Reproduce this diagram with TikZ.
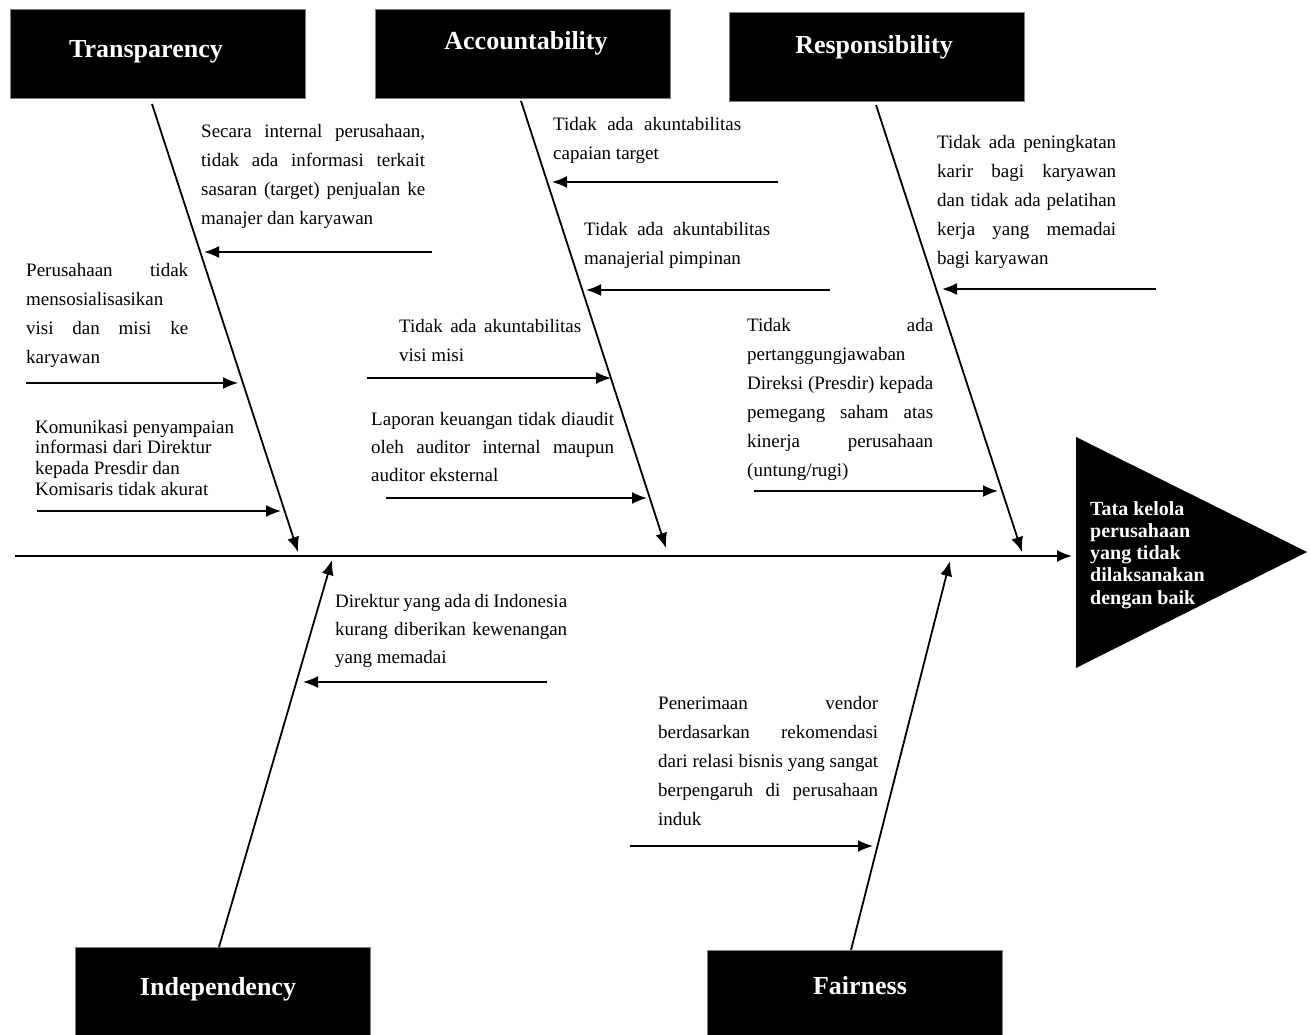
\documentclass[tikz,border=0pt]{standalone}
\usepackage{fontspec}
\setmainfont{Liberation Serif}
\usetikzlibrary{arrows.meta}
\newcommand\J[1]{\makebox[\linewidth][s]{#1}}
\begin{document}
\begin{tikzpicture}[x=1pt,y=-1pt,
  bone/.style={line width=1.8pt,-{Latex[length=15pt,width=12pt]}},
  sub/.style={line width=1.7pt,-{Latex[length=15pt,width=12pt]}},
  titlebox/.style={draw=gray,fill=black,line width=0.8pt,anchor=north west,inner sep=0,minimum width=295pt},
  titletext/.style={anchor=base,text=white,inner sep=0,font=\fontsize{26}{30}\selectfont\bfseries},
  desc/.style={anchor=base west,inner sep=0,font=\fontsize{19}{29}\selectfont},
  effect/.style={anchor=base west,inner sep=0,text=white,font=\fontsize{20}{22.3}\selectfont\bfseries},
]
\useasboundingbox (0,0) rectangle (1311,1035);

% category boxes
\node[titlebox,minimum height=89pt] (boxT) at (10,9) {};
\node[titletext] (tT) at (146,58) {Transparency};
\node[titlebox,minimum height=89pt] (boxA) at (375,9) {};
\node[titletext] (tA) at (526,50) {Accountability};
\node[titlebox,minimum height=89pt] (boxR) at (729,12) {};
\node[titletext] (tR) at (874,54) {Responsibility};
\node[titlebox,minimum height=89pt] (boxI) at (75,947) {};
\node[titletext] (tI) at (218,995) {Independency};
\node[titlebox,minimum height=86pt] (boxF) at (707,950) {};
\node[titletext] (tF) at (860,994) {Fairness};

% effect triangle
\coordinate (triA) at (1076,437);
\coordinate (triB) at (1076,668);
\coordinate (triC) at (1307,552);
\fill[black] (triA) -- (triC) -- (triB) -- cycle;
\node[effect] (eff) at (1090,515) {\parbox[t]{150pt}{Tata kelola\\perusahaan\\yang tidak\\dilaksanakan\\dengan baik}};

% spine
\coordinate (sp0) at (15,556);
\coordinate (sp1) at (1072,556);
\draw[bone] (sp0) -- (sp1);

% bones
\coordinate (bT0) at (152,104);  \coordinate (bT1) at (298,552);
\coordinate (bA0) at (521,101);  \coordinate (bA1) at (666,548);
\coordinate (bR0) at (876,105);  \coordinate (bR1) at (1022,552);
\coordinate (bI0) at (219,947);  \coordinate (bI1) at (332,560);
\coordinate (bF0) at (851,950);  \coordinate (bF1) at (950,561);
\draw[bone] (bT0) -- (bT1);
\draw[bone] (bA0) -- (bA1);
\draw[bone] (bR0) -- (bR1);
\draw[bone] (bI0) -- (bI1);
\draw[bone] (bF0) -- (bF1);

% sub-cause arrows
\coordinate (sT1a) at (432,252); \coordinate (sT1b) at (204,252);
\coordinate (sT2a) at (26,383);  \coordinate (sT2b) at (238,383);
\coordinate (sT3a) at (37,511);  \coordinate (sT3b) at (281,511);
\coordinate (sA1a) at (778,182); \coordinate (sA1b) at (552,182);
\coordinate (sA2a) at (830,290); \coordinate (sA2b) at (586,290);
\coordinate (sA3a) at (367,378); \coordinate (sA3b) at (611,378);
\coordinate (sA4a) at (386,498); \coordinate (sA4b) at (647,498);
\coordinate (sR1a) at (1156,289); \coordinate (sR1b) at (942,289);
\coordinate (sR2a) at (754,491); \coordinate (sR2b) at (998,491);
\coordinate (sI1a) at (547,682); \coordinate (sI1b) at (303,682);
\coordinate (sF1a) at (630,846); \coordinate (sF1b) at (873,846);
\foreach \s in {T1,T2,T3,A1,A2,A3,A4,R1,R2,I1,F1}{
  \draw[sub] (s\s a) -- (s\s b);
}

% texts
\node[desc] (dT1) at (201,138) {\parbox[t]{224pt}{\J{Secara internal perusahaan,}\\\J{tidak ada informasi terkait}\\\J{sasaran (target) penjualan ke}\\manajer dan karyawan}};
\node[desc] (dT2) at (26,276) {\parbox[t]{162pt}{\J{Perusahaan tidak}\\mensosialisasikan\\\J{visi dan misi ke}\\karyawan}};
\node[desc,font=\fontsize{19}{20.7}\selectfont] (dT3) at (35,433) {\parbox[t]{215pt}{Komunikasi penyampaian\\informasi dari Direktur\\kepada Presdir dan\\Komisaris tidak akurat}};
\node[desc] (dA1) at (553,131) {\parbox[t]{188pt}{\J{Tidak ada akuntabilitas}\\capaian target}};
\node[desc] (dA2) at (584,235) {\parbox[t]{186pt}{\J{Tidak ada akuntabilitas}\\manajerial pimpinan}};
\node[desc] (dA3) at (399,332) {\parbox[t]{182pt}{\J{Tidak ada akuntabilitas}\\visi misi}};
\node[desc,font=\fontsize{19}{28}\selectfont] (dA4) at (371,425) {\parbox[t]{243pt}{\J{Laporan keuangan tidak diaudit}\\\J{oleh auditor internal maupun}\\auditor eksternal}};
\node[desc] (dR1) at (937,149) {\parbox[t]{179pt}{\J{Tidak ada peningkatan}\\\J{karir bagi karyawan}\\\J{dan tidak ada pelatihan}\\\J{kerja yang memadai}\\bagi karyawan}};
\node[desc] (dR2) at (747,331) {\parbox[t]{186pt}{\J{Tidak ada}\\pertanggungjawaban\\\J{Direksi (Presdir) kepada}\\\J{pemegang saham atas}\\\J{kinerja perusahaan}\\(untung/rugi)}};
\node[desc,font=\fontsize{19}{28}\selectfont] (dI1) at (335,607) {\parbox[t]{232pt}{\J{Direktur yang ada di Indonesia}\\\J{kurang diberikan kewenangan}\\yang memadai}};
\node[desc] (dF1) at (658,709) {\parbox[t]{220pt}{\J{Penerimaan vendor}\\\J{berdasarkan rekomendasi}\\\J{dari relasi bisnis yang sangat}\\\J{berpengaruh di perusahaan}\\induk}};
\end{tikzpicture}
\end{document}
